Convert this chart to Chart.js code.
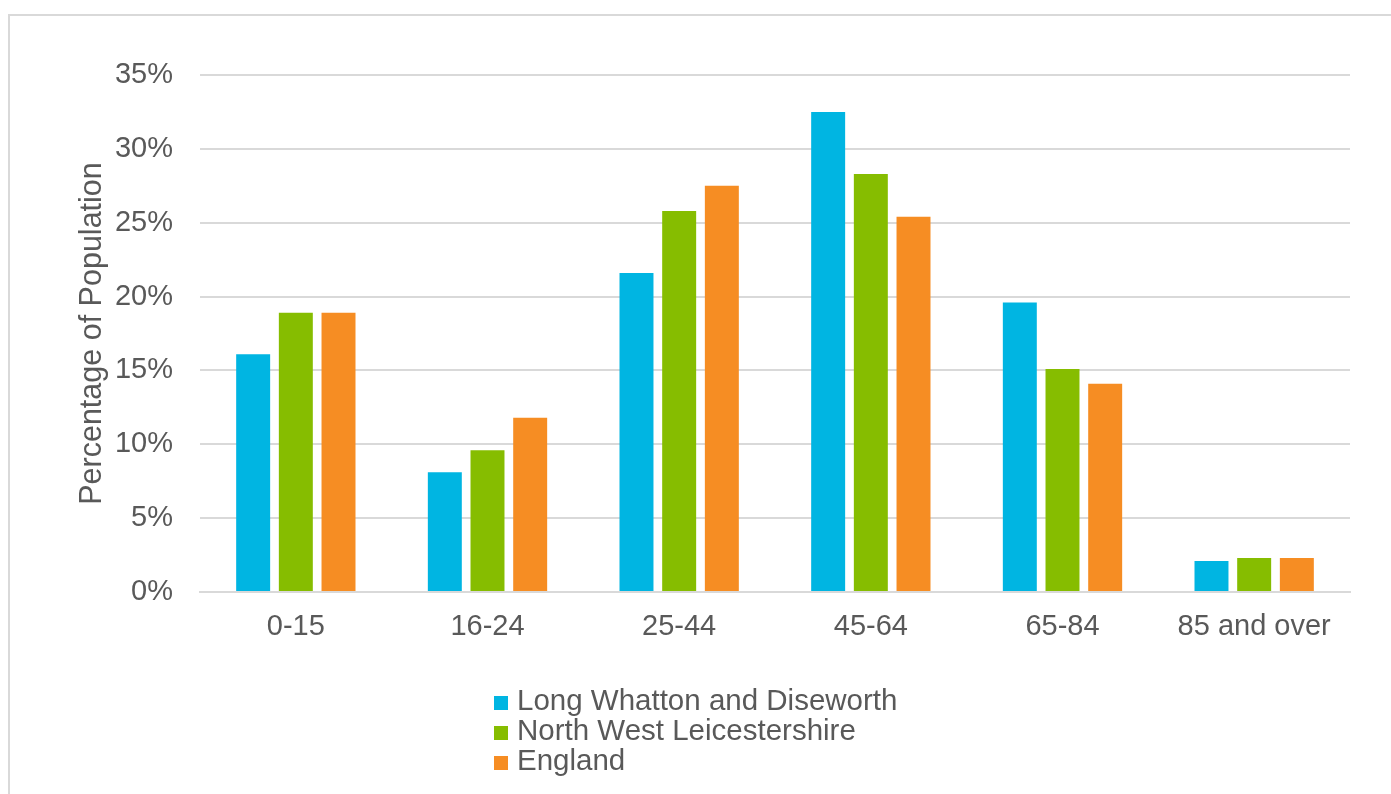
<!DOCTYPE html>
<html>
<head>
<meta charset="utf-8">
<script src="https://cdn.jsdelivr.net/npm/chart.js@4/dist/chart.umd.min.js"></script>
<style>
  html, body { margin: 0; padding: 0; background: #ffffff; }
  #wrap { position: relative; width: 1391px; height: 794px; overflow: hidden; }
  canvas { display: block; }
</style>
</head>
<body>
<div id="wrap"><canvas id="chart" width="1391" height="794"></canvas></div>
<script>
// Age bands and population shares (percent)
const ageBands = ['0-15', '16-24', '25-44', '45-64', '65-84', '85 and over'];
const seriesNames = ['Long Whatton and Diseworth', 'North West Leicestershire', 'England'];
const longWhatton = [16.1, 8.1, 21.6, 32.5, 19.6, 2.1];
const northWestLeics = [18.9, 9.6, 25.8, 28.3, 15.1, 2.3];
const england = [18.9, 11.8, 27.5, 25.4, 14.1, 2.3];
const seriesColors = ['#00B5E2', '#86BD00', '#F68D23'];
const yTicks = [0, 5, 10, 15, 20, 25, 30, 35];

const FONT = '"Liberation Sans", Arial, sans-serif';
const TEXT = '#595959';
const GRID = '#d9d9d9';

// Thin frame along the top and left edges
const framePlugin = {
  id: 'frame',
  beforeDraw(chart) {
    const ctx = chart.ctx;
    ctx.save();
    ctx.strokeStyle = GRID;
    ctx.lineWidth = 2;
    ctx.beginPath();
    ctx.moveTo(9, chart.height);
    ctx.lineTo(9, 15);
    ctx.lineTo(chart.width, 15);
    ctx.stroke();
    ctx.restore();
  }
};

// Stacked legend below the axis, one entry per row, left aligned
const stackedLegend = {
  id: 'stackedLegend',
  afterDraw(chart) {
    const ctx = chart.ctx;
    const x0 = 494, y0 = 702, rowH = 30, box = 14;
    ctx.save();
    ctx.font = '29.5px ' + FONT;
    ctx.textBaseline = 'middle';
    ctx.textAlign = 'left';
    chart.data.datasets.forEach((ds, i) => {
      const y = y0 + i * rowH;
      ctx.fillStyle = ds.backgroundColor;
      ctx.fillRect(x0, y - box / 2 + 1, box, box);
      ctx.fillStyle = TEXT;
      ctx.fillText(ds.label, x0 + 23, y);
    });
    ctx.restore();
  }
};

const values = [longWhatton, northWestLeics, england];

new Chart(document.getElementById('chart'), {
  type: 'bar',
  data: {
    labels: ageBands,
    datasets: seriesNames.map((name, i) => ({
      label: name,
      data: values[i],
      backgroundColor: seriesColors[i],
      borderWidth: 0,
      categoryPercentage: 0.668,
      barPercentage: 0.796
    }))
  },
  options: {
    responsive: false,
    animation: false,
    layout: { padding: { left: 0, right: 41, top: 75, bottom: 0 } },
    plugins: {
      legend: { display: false },
      tooltip: { enabled: false }
    },
    scales: {
      x: {
        grid: { display: false, drawTicks: false },
        border: { display: true, color: GRID, width: 2 },
        ticks: {
          color: TEXT,
          font: { family: FONT, size: 29 },
          padding: 18,
          maxRotation: 0,
          autoSkip: false
        },
        afterFit(scale) { scale.height = 202; }
      },
      y: {
        min: 0,
        max: 35,
        afterBuildTicks(scale) { scale.ticks = yTicks.map(v => ({ value: v })); },
        grid: { color: GRID, lineWidth: 2, drawTicks: false },
        border: { display: false },
        ticks: {
          color: TEXT,
          font: { family: FONT, size: 29 },
          padding: 27,
          callback: v => v + '%'
        },
        title: {
          display: true,
          text: 'Percentage of Population',
          color: TEXT,
          font: { family: FONT, size: 30.5 },
          padding: { top: 74, bottom: 0 }
        },
        afterFit(scale) { scale.width = 200; }
      }
    }
  },
  plugins: [framePlugin, stackedLegend]
});
</script>
</body>
</html>
